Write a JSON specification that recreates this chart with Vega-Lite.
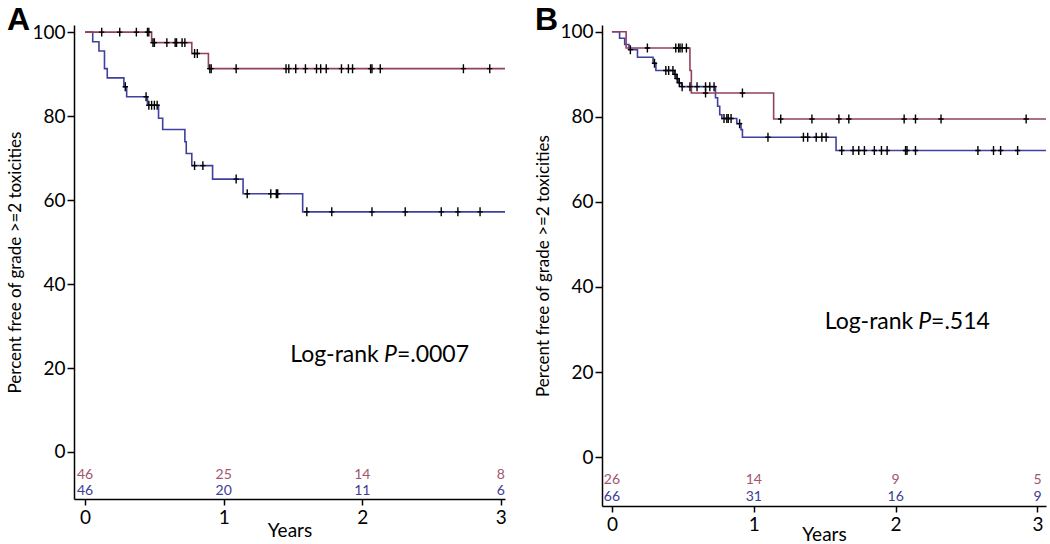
{
  "$schema": "https://vega.github.io/schema/vega-lite/v6.json",
  "padding": {"left": 6, "top": 3, "right": 0, "bottom": 0},
  "spacing": 25,
  "config": {
    "view": {"stroke": null},
    "font": "Lato",
    "axis": {
      "grid": false,
      "domainColor": "black",
      "tickColor": "black",
      "domainWidth": 1.5,
      "tickWidth": 1.5,
      "labelColor": "black",
      "titleColor": "black",
      "labelFont": "Lato",
      "titleFont": "Lato",
      "labelFontSize": 19,
      "titleFontSize": 17,
      "titleFontWeight": "normal"
    },
    "axisX": {"tickSize": 6, "labelPadding": 3, "titlePadding": -6, "titleFontSize": 19},
    "axisY": {"tickSize": 7, "labelPadding": 2, "titlePadding": 7},
    "title": {"anchor": "start", "frame": "bounds", "fontSize": 32, "fontWeight": "bold", "font": "Liberation Sans", "color": "black", "offset": -14}
  },
  "datasets": {
    "kmA": [
      {"group": "Group 2", "t": 0, "s": 100},
      {"group": "Group 2", "t": 0.055, "s": 97.7},
      {"group": "Group 2", "t": 0.10, "s": 95.5},
      {"group": "Group 2", "t": 0.14, "s": 91.3},
      {"group": "Group 2", "t": 0.16, "s": 89.1},
      {"group": "Group 2", "t": 0.28, "s": 87.0},
      {"group": "Group 2", "t": 0.30, "s": 84.6},
      {"group": "Group 2", "t": 0.45, "s": 82.6},
      {"group": "Group 2", "t": 0.53, "s": 79.5},
      {"group": "Group 2", "t": 0.56, "s": 76.8},
      {"group": "Group 2", "t": 0.72, "s": 73.9},
      {"group": "Group 2", "t": 0.73, "s": 71.1},
      {"group": "Group 2", "t": 0.77, "s": 68.2},
      {"group": "Group 2", "t": 0.92, "s": 65.0},
      {"group": "Group 2", "t": 1.14, "s": 61.5},
      {"group": "Group 2", "t": 1.57, "s": 57.2},
      {"group": "Group 2", "t": 3.03, "s": 57.2},
      {"group": "Group 1", "t": 0, "s": 100},
      {"group": "Group 1", "t": 0.48, "s": 97.5},
      {"group": "Group 1", "t": 0.77, "s": 94.9},
      {"group": "Group 1", "t": 0.89, "s": 91.3},
      {"group": "Group 1", "t": 3.03, "s": 91.3}
    ],
    "censA": [
      {"group": "Group 1", "t": 0.12, "s": 100},
      {"group": "Group 1", "t": 0.25, "s": 100},
      {"group": "Group 1", "t": 0.37, "s": 100},
      {"group": "Group 1", "t": 0.45, "s": 100},
      {"group": "Group 1", "t": 0.46, "s": 100},
      {"group": "Group 1", "t": 0.49, "s": 97.5},
      {"group": "Group 1", "t": 0.50, "s": 97.5},
      {"group": "Group 1", "t": 0.59, "s": 97.5},
      {"group": "Group 1", "t": 0.65, "s": 97.5},
      {"group": "Group 1", "t": 0.66, "s": 97.5},
      {"group": "Group 1", "t": 0.70, "s": 97.5},
      {"group": "Group 1", "t": 0.72, "s": 97.5},
      {"group": "Group 1", "t": 0.79, "s": 94.9},
      {"group": "Group 1", "t": 0.81, "s": 94.9},
      {"group": "Group 1", "t": 0.90, "s": 91.3},
      {"group": "Group 1", "t": 0.91, "s": 91.3},
      {"group": "Group 1", "t": 1.09, "s": 91.3},
      {"group": "Group 1", "t": 1.45, "s": 91.3},
      {"group": "Group 1", "t": 1.47, "s": 91.3},
      {"group": "Group 1", "t": 1.52, "s": 91.3},
      {"group": "Group 1", "t": 1.59, "s": 91.3},
      {"group": "Group 1", "t": 1.67, "s": 91.3},
      {"group": "Group 1", "t": 1.70, "s": 91.3},
      {"group": "Group 1", "t": 1.74, "s": 91.3},
      {"group": "Group 1", "t": 1.85, "s": 91.3},
      {"group": "Group 1", "t": 1.90, "s": 91.3},
      {"group": "Group 1", "t": 1.93, "s": 91.3},
      {"group": "Group 1", "t": 2.06, "s": 91.3},
      {"group": "Group 1", "t": 2.07, "s": 91.3},
      {"group": "Group 1", "t": 2.13, "s": 91.3},
      {"group": "Group 1", "t": 2.73, "s": 91.3},
      {"group": "Group 1", "t": 2.92, "s": 91.3},
      {"group": "Group 2", "t": 0.29, "s": 87.0},
      {"group": "Group 2", "t": 0.44, "s": 84.6},
      {"group": "Group 2", "t": 0.46, "s": 82.6},
      {"group": "Group 2", "t": 0.48, "s": 82.6},
      {"group": "Group 2", "t": 0.50, "s": 82.6},
      {"group": "Group 2", "t": 0.52, "s": 82.6},
      {"group": "Group 2", "t": 0.79, "s": 68.2},
      {"group": "Group 2", "t": 0.85, "s": 68.2},
      {"group": "Group 2", "t": 1.09, "s": 65.0},
      {"group": "Group 2", "t": 1.17, "s": 61.5},
      {"group": "Group 2", "t": 1.34, "s": 61.5},
      {"group": "Group 2", "t": 1.38, "s": 61.5},
      {"group": "Group 2", "t": 1.39, "s": 61.5},
      {"group": "Group 2", "t": 1.60, "s": 57.2},
      {"group": "Group 2", "t": 1.78, "s": 57.2},
      {"group": "Group 2", "t": 2.07, "s": 57.2},
      {"group": "Group 2", "t": 2.31, "s": 57.2},
      {"group": "Group 2", "t": 2.57, "s": 57.2},
      {"group": "Group 2", "t": 2.69, "s": 57.2},
      {"group": "Group 2", "t": 2.85, "s": 57.2}
    ],
    "riskA": [
      {"group": "Group 1", "t": 0, "n": 46},
      {"group": "Group 1", "t": 1, "n": 25},
      {"group": "Group 1", "t": 2, "n": 14},
      {"group": "Group 1", "t": 3, "n": 8},
      {"group": "Group 2", "t": 0, "n": 46},
      {"group": "Group 2", "t": 1, "n": 20},
      {"group": "Group 2", "t": 2, "n": 11},
      {"group": "Group 2", "t": 3, "n": 6}
    ],
    "kmB": [
      {"group": "Group 2", "t": 0, "s": 100},
      {"group": "Group 2", "t": 0.054, "s": 98.5},
      {"group": "Group 2", "t": 0.09, "s": 97.0},
      {"group": "Group 2", "t": 0.12, "s": 95.8},
      {"group": "Group 2", "t": 0.18, "s": 94.0},
      {"group": "Group 2", "t": 0.29, "s": 92.6},
      {"group": "Group 2", "t": 0.31, "s": 90.9},
      {"group": "Group 2", "t": 0.44, "s": 90.0},
      {"group": "Group 2", "t": 0.455, "s": 89.0},
      {"group": "Group 2", "t": 0.47, "s": 88.0},
      {"group": "Group 2", "t": 0.49, "s": 87.1},
      {"group": "Group 2", "t": 0.73, "s": 84.5},
      {"group": "Group 2", "t": 0.745, "s": 82.5},
      {"group": "Group 2", "t": 0.76, "s": 80.5},
      {"group": "Group 2", "t": 0.775, "s": 79.6},
      {"group": "Group 2", "t": 0.88, "s": 78.4},
      {"group": "Group 2", "t": 0.91, "s": 77.0},
      {"group": "Group 2", "t": 0.92, "s": 75.2},
      {"group": "Group 2", "t": 1.58, "s": 72.1},
      {"group": "Group 2", "t": 3.06, "s": 72.1},
      {"group": "Group 1", "t": 0, "s": 100},
      {"group": "Group 1", "t": 0.10, "s": 96.2},
      {"group": "Group 1", "t": 0.55, "s": 90.9},
      {"group": "Group 1", "t": 0.56, "s": 85.6},
      {"group": "Group 1", "t": 1.14, "s": 79.5},
      {"group": "Group 1", "t": 3.06, "s": 79.5}
    ],
    "censB": [
      {"group": "Group 1", "t": 0.25, "s": 96.2},
      {"group": "Group 1", "t": 0.45, "s": 96.2},
      {"group": "Group 1", "t": 0.47, "s": 96.2},
      {"group": "Group 1", "t": 0.48, "s": 96.2},
      {"group": "Group 1", "t": 0.495, "s": 96.2},
      {"group": "Group 1", "t": 0.525, "s": 96.2},
      {"group": "Group 1", "t": 0.66, "s": 85.6},
      {"group": "Group 1", "t": 0.92, "s": 85.6},
      {"group": "Group 1", "t": 1.19, "s": 79.5},
      {"group": "Group 1", "t": 1.41, "s": 79.5},
      {"group": "Group 1", "t": 1.60, "s": 79.5},
      {"group": "Group 1", "t": 1.67, "s": 79.5},
      {"group": "Group 1", "t": 2.06, "s": 79.5},
      {"group": "Group 1", "t": 2.14, "s": 79.5},
      {"group": "Group 1", "t": 2.32, "s": 79.5},
      {"group": "Group 1", "t": 2.92, "s": 79.5},
      {"group": "Group 2", "t": 0.13, "s": 95.8},
      {"group": "Group 2", "t": 0.30, "s": 92.6},
      {"group": "Group 2", "t": 0.38, "s": 90.9},
      {"group": "Group 2", "t": 0.40, "s": 90.9},
      {"group": "Group 2", "t": 0.43, "s": 90.9},
      {"group": "Group 2", "t": 0.445, "s": 90.0},
      {"group": "Group 2", "t": 0.46, "s": 89.0},
      {"group": "Group 2", "t": 0.475, "s": 88.0},
      {"group": "Group 2", "t": 0.495, "s": 87.1},
      {"group": "Group 2", "t": 0.55, "s": 87.1},
      {"group": "Group 2", "t": 0.60, "s": 87.1},
      {"group": "Group 2", "t": 0.66, "s": 87.1},
      {"group": "Group 2", "t": 0.69, "s": 87.1},
      {"group": "Group 2", "t": 0.72, "s": 87.1},
      {"group": "Group 2", "t": 0.79, "s": 79.6},
      {"group": "Group 2", "t": 0.81, "s": 79.6},
      {"group": "Group 2", "t": 0.82, "s": 79.6},
      {"group": "Group 2", "t": 0.84, "s": 79.6},
      {"group": "Group 2", "t": 0.90, "s": 78.4},
      {"group": "Group 2", "t": 1.10, "s": 75.2},
      {"group": "Group 2", "t": 1.35, "s": 75.2},
      {"group": "Group 2", "t": 1.38, "s": 75.2},
      {"group": "Group 2", "t": 1.44, "s": 75.2},
      {"group": "Group 2", "t": 1.48, "s": 75.2},
      {"group": "Group 2", "t": 1.51, "s": 75.2},
      {"group": "Group 2", "t": 1.62, "s": 72.1},
      {"group": "Group 2", "t": 1.70, "s": 72.1},
      {"group": "Group 2", "t": 1.74, "s": 72.1},
      {"group": "Group 2", "t": 1.78, "s": 72.1},
      {"group": "Group 2", "t": 1.85, "s": 72.1},
      {"group": "Group 2", "t": 1.90, "s": 72.1},
      {"group": "Group 2", "t": 1.94, "s": 72.1},
      {"group": "Group 2", "t": 2.07, "s": 72.1},
      {"group": "Group 2", "t": 2.08, "s": 72.1},
      {"group": "Group 2", "t": 2.14, "s": 72.1},
      {"group": "Group 2", "t": 2.58, "s": 72.1},
      {"group": "Group 2", "t": 2.69, "s": 72.1},
      {"group": "Group 2", "t": 2.74, "s": 72.1},
      {"group": "Group 2", "t": 2.86, "s": 72.1}
    ],
    "riskB": [
      {"group": "Group 1", "t": 0, "n": 26},
      {"group": "Group 1", "t": 1, "n": 14},
      {"group": "Group 1", "t": 2, "n": 9},
      {"group": "Group 1", "t": 3, "n": 5},
      {"group": "Group 2", "t": 0, "n": 66},
      {"group": "Group 2", "t": 1, "n": 31},
      {"group": "Group 2", "t": 2, "n": 16},
      {"group": "Group 2", "t": 3, "n": 9}
    ]
  },
  "hconcat": [
    {
      "title": {"text": "A"},
      "width": 431,
      "height": 474,
      "layer": [
        {
          "data": {"name": "kmA"},
          "mark": {"type": "line", "interpolate": "step-after", "strokeWidth": 1.6},
          "encoding": {
            "x": {"field": "t", "type": "quantitative", "scale": {"domain": [-0.08, 3.03], "nice": false, "zero": false}, "axis": {"values": [0, 1, 2, 3], "format": "d", "title": "Years"}},
            "y": {"field": "s", "type": "quantitative", "scale": {"domain": [-11.2, 101.7], "nice": false, "zero": false}, "axis": {"values": [0, 20, 40, 60, 80, 100], "title": "Percent free of grade >=2 toxicities"}},
            "stroke": {"field": "group", "type": "nominal", "scale": {"domain": ["Group 1", "Group 2"], "range": ["#924062", "#4040a0"]}, "legend": null}
          }
        },
        {
          "data": {"name": "censA"},
          "mark": {"type": "point", "shape": "M0,-1V1M-0.6,0H0.6", "stroke": "black", "strokeWidth": 1.4, "filled": false, "size": 80, "opacity": 1},
          "encoding": {
            "x": {"field": "t", "type": "quantitative"},
            "y": {"field": "s", "type": "quantitative"}
          }
        },
        {
          "data": {"name": "riskA"},
          "transform": [{"filter": "datum.group == 'Group 1'"}],
          "mark": {"type": "text", "fontSize": 14, "color": "#a0566e"},
          "encoding": {
            "x": {"field": "t", "type": "quantitative"},
            "y": {"datum": -5.6},
            "text": {"field": "n"}
          }
        },
        {
          "data": {"name": "riskA"},
          "transform": [{"filter": "datum.group == 'Group 2'"}],
          "mark": {"type": "text", "fontSize": 14, "color": "#3c3c94"},
          "encoding": {
            "x": {"field": "t", "type": "quantitative"},
            "y": {"datum": -9.3},
            "text": {"field": "n"}
          }
        },
        {
          "data": {"values": [{}]},
          "mark": {"type": "text", "fontSize": 23, "align": "left", "color": "black", "text": "Log-rank"},
          "encoding": {"x": {"datum": 1.48}, "y": {"datum": 23.1}}
        },
        {
          "data": {"values": [{}]},
          "mark": {"type": "text", "fontSize": 23, "align": "right", "fontStyle": "italic", "color": "black", "text": "P"},
          "encoding": {"x": {"datum": 2.25}, "y": {"datum": 23.1}}
        },
        {
          "data": {"values": [{}]},
          "mark": {"type": "text", "fontSize": 23, "align": "left", "color": "black", "text": "=.0007"},
          "encoding": {"x": {"datum": 2.25}, "y": {"datum": 23.1}}
        }
      ]
    },
    {
      "title": {"text": "B"},
      "width": 444,
      "height": 481,
      "layer": [
        {
          "data": {"name": "kmB"},
          "mark": {"type": "line", "interpolate": "step-after", "strokeWidth": 1.6},
          "encoding": {
            "x": {"field": "t", "type": "quantitative", "scale": {"domain": [-0.07, 3.06], "nice": false, "zero": false}, "axis": {"values": [0, 1, 2, 3], "format": "d", "title": "Years", "titlePadding": -9}},
            "y": {"field": "s", "type": "quantitative", "scale": {"domain": [-11.5, 101.6], "nice": false, "zero": false}, "axis": {"values": [0, 20, 40, 60, 80, 100], "title": "Percent free of grade >=2 toxicities"}},
            "stroke": {"field": "group", "type": "nominal", "scale": {"domain": ["Group 1", "Group 2"], "range": ["#924062", "#4040a0"]}, "legend": null}
          }
        },
        {
          "data": {"name": "censB"},
          "mark": {"type": "point", "shape": "M0,-1V1M-0.6,0H0.6", "stroke": "black", "strokeWidth": 1.4, "filled": false, "size": 80, "opacity": 1},
          "encoding": {
            "x": {"field": "t", "type": "quantitative"},
            "y": {"field": "s", "type": "quantitative"}
          }
        },
        {
          "data": {"name": "riskB"},
          "transform": [{"filter": "datum.group == 'Group 1'"}],
          "mark": {"type": "text", "fontSize": 14, "color": "#a0566e"},
          "encoding": {
            "x": {"field": "t", "type": "quantitative"},
            "y": {"datum": -5.4},
            "text": {"field": "n"}
          }
        },
        {
          "data": {"name": "riskB"},
          "transform": [{"filter": "datum.group == 'Group 2'"}],
          "mark": {"type": "text", "fontSize": 14, "color": "#3c3c94"},
          "encoding": {
            "x": {"field": "t", "type": "quantitative"},
            "y": {"datum": -9.4},
            "text": {"field": "n"}
          }
        },
        {
          "data": {"values": [{}]},
          "mark": {"type": "text", "fontSize": 23, "align": "left", "color": "black", "text": "Log-rank"},
          "encoding": {"x": {"datum": 1.5}, "y": {"datum": 31.8}}
        },
        {
          "data": {"values": [{}]},
          "mark": {"type": "text", "fontSize": 23, "align": "right", "fontStyle": "italic", "color": "black", "text": "P"},
          "encoding": {"x": {"datum": 2.25}, "y": {"datum": 31.8}}
        },
        {
          "data": {"values": [{}]},
          "mark": {"type": "text", "fontSize": 23, "align": "left", "color": "black", "text": "=.514"},
          "encoding": {"x": {"datum": 2.25}, "y": {"datum": 31.8}}
        }
      ]
    }
  ]
}
